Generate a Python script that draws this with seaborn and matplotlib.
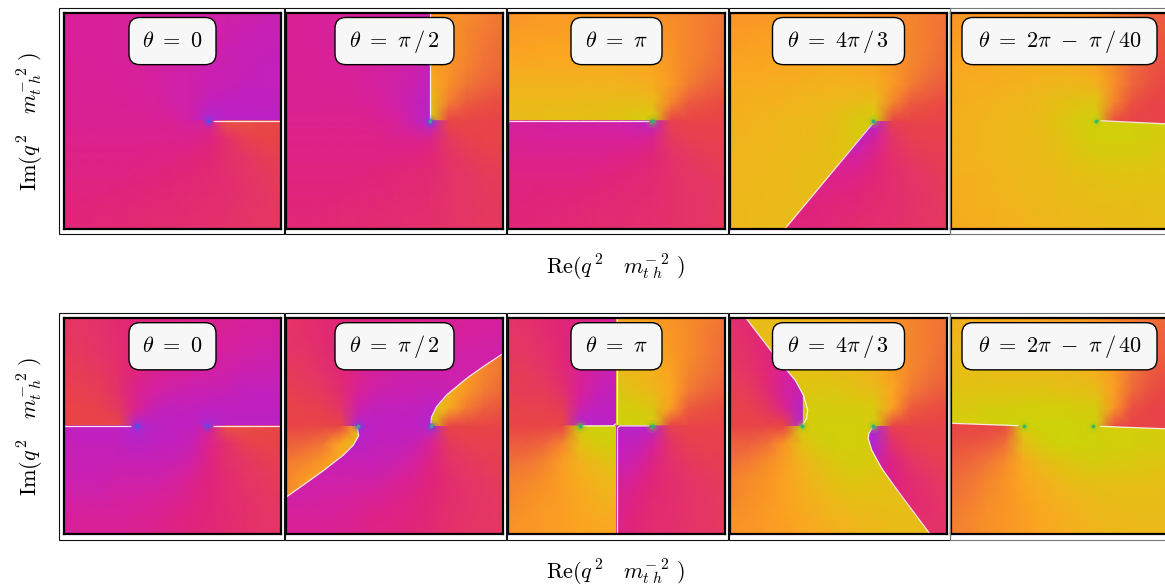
import matplotlib
matplotlib.use("Agg")
import matplotlib.pyplot as plt
from matplotlib.colors import LinearSegmentedColormap
from matplotlib.patches import FancyBboxPatch, Rectangle
from matplotlib.path import Path
from matplotlib.transforms import Affine2D
import numpy as np
import seaborn as sns

# ============================
# CONFIG
# ============================
W, H = 1165, 588
GRID = 12  # one sheet vertex every 1/12 of a panel
PANEL_X = [64, 286, 508, 730, 951]
PANEL_Y = [12.5, 317.7]
PANEL_W, PANEL_H = 217, 216.4

plt.rcParams["mathtext.fontset"] = "cm"

# ============================
# DATA: phase, 0 = blue ... 100 = teal
# ============================
PHASE_STOPS = [0, 10, 18, 25, 32, 40, 48, 56, 62, 68, 74, 80, 87, 94, 100]
PHASE_COLORS = ["#5050f0", "#a030e0", "#c020c0", "#d8209a", "#e0247a", "#e43468", "#e84545",
                "#f07038", "#f89028", "#fba520", "#f0b51c", "#e4c014", "#ccd408", "#60c840", "#20b090"]

TITLES = [r"$\theta\ =\ 0$", r"$\theta\ =\ \pi\,/\,2$", r"$\theta\ =\ \pi$",
          r"$\theta\ =\ 4\pi\,/\,3$", r"$\theta\ =\ 2\pi\ -\ \pi\,/\,40$"]
BOX_WIDTHS = [87, 119, 91, 132, 195]

# top row
T0_UP = [[25,25,25,25,25,24,24,23,23,22,22,21,20],
         [25,25,25,25,24,24,23,23,22,22,21,20,20],
         [25,25,25,25,24,24,23,22,22,21,20,20,19],
         [26,26,25,25,25,24,23,22,21,21,20,19,19],
         [26,26,26,25,25,24,23,22,21,20,19,19,19],
         [27,26,26,26,25,25,23,22,19,18,18,18,18],
         [27,27,27,27,27,26,25,22,14,17,17,17,17]]
T0_LOW = [[27,27,27,27,27,27,26,24,24,50,50,49,48],
          [28,28,28,28,28,28,28,28,30,38,45,47,48],
          [29,29,29,29,29,30,30,31,33,38,41,44,45],
          [30,30,30,30,31,31,32,33,35,37,40,42,44],
          [31,31,31,32,32,33,34,35,36,37,39,41,43],
          [32,32,33,33,34,35,35,36,37,38,40,41,42],
          [33,33,34,34,35,36,36,37,38,39,40,41,42]]
T1_LEFT = [[26,26,25,25,25,24,24,23,22],
           [26,26,25,25,25,24,23,23,22],
           [26,26,26,25,25,24,23,22,21],
           [26,26,26,25,25,24,23,22,20],
           [27,27,26,26,25,24,23,21,19],
           [27,27,27,27,26,25,23,20,17],
           [28,28,28,28,28,27,25,21,14],
           [29,29,29,29,29,29,28,27,28],
           [30,30,30,30,30,30,30,31,33],
           [31,31,31,31,31,32,33,34,35],
           [32,32,32,32,33,33,34,35,36],
           [33,33,33,34,34,35,36,36,37],
           [34,34,34,35,35,36,36,37,38]]
T1_RIGHT = [[65,63,61,59,57],
            [65,63,60,58,56],
            [66,63,60,57,55],
            [67,63,59,56,54],
            [72,62,57,54,52],
            [80,58,52,50,49],
            [84,48,48,48,47]]
T1_LOWER = [[14,48,48,48,47],
            [28,42,46,47,47],
            [33,40,43,45,46],
            [35,39,41,43,44],
            [37,39,41,42,43],
            [38,39,41,42,42],
            [38,40,41,42,42]]
T2_UP = [[63,64,65,65,65,64,64,63,62,61,60,58,57],
         [65,66,66,66,66,66,65,64,63,62,60,58,56],
         [67,67,68,68,68,67,67,66,65,63,60,58,55],
         [70,70,70,70,70,70,70,69,68,64,60,57,54],
         [73,73,73,73,73,73,73,72,71,65,58,54,52],
         [76,76,76,76,77,77,78,78,78,60,52,50,49],
         [78,78,79,79,79,80,81,84,84,48,48,48,47]]
T2_LOW = [[24,24,24,23,23,23,22,20,16,46,47,47,47],
          [26,26,25,25,25,25,25,25,28,42,45,46,46],
          [28,28,28,28,28,28,29,30,33,39,42,44,45],
          [30,30,30,30,30,31,32,33,35,38,41,42,43],
          [31,31,32,32,32,33,34,35,36,38,40,41,42],
          [32,32,33,33,34,35,35,36,37,38,40,41,42],
          [33,33,34,34,35,36,36,37,38,39,40,41,42]]
T3_MAIN = [[63,64,64,65,65,64,64,63,62,61,60,58,57],
           [65,65,66,66,66,66,65,64,63,62,60,58,56],
           [66,67,67,67,67,67,67,66,65,63,60,58,55],
           [68,68,69,69,69,70,70,69,68,64,60,57,54],
           [70,70,71,71,72,72,73,73,72,65,58,54,52],
           [71,72,72,73,74,75,76,78,79,60,52,50,49],
           [72,73,74,75,76,77,79,83,84,48,48,48,47],
           [73,74,74,75,76,78,80,83,84,84,84,84,84],
           [74,74,75,76,77,78,80,81,81,81,81,81,81],
           [74,75,75,76,77,78,79,79,79,79,79,79,79],
           [75,75,76,76,77,78,78,78,78,78,78,78,78],
           [75,76,76,77,77,78,78,78,78,78,78,78,78],
           [76,76,77,77,77,78,78,78,78,78,78,78,78]]
T3_LOW = [[12,12,12,12,12,12,12,12,14,46,47,47,47],
          [25,25,25,25,25,25,20,17,24,40,45,46,46],
          [28,28,28,28,28,27,26,24,30,38,42,44,45],
          [29,29,29,29,29,29,28,29,33,37,40,42,44],
          [30,30,30,30,30,30,31,32,35,37,39,41,43],
          [31,31,31,31,31,32,33,34,36,37,39,41,42],
          [32,32,32,32,32,33,34,36,37,38,40,41,42]]
T4_UP = [[63,64,65,65,65,64,64,63,62,59,57,54,52],
         [65,66,66,66,66,66,65,64,63,60,56,53,51],
         [67,67,68,68,68,68,67,66,65,61,56,53,50],
         [69,69,70,70,71,71,71,70,68,61,55,51,49],
         [70,71,71,72,73,74,75,75,74,62,54,50,48],
         [71,72,73,74,75,77,79,81,82,60,50,48,47],
         [72,73,74,75,76,78,81,84,85,50,47,47,47],
         [72,73,74,75,76,78,80,83,85,47,47,47,47]]
T4_LOW = [[72,73,74,75,76,78,81,84,85,85,85,85,85],
          [72,73,74,75,76,78,80,83,85,85,85,84,84],
          [72,73,74,75,76,77,79,81,83,83,83,83,82],
          [72,72,73,74,75,76,77,79,80,81,81,81,81],
          [71,72,73,74,75,76,77,78,79,79,80,80,80],
          [71,72,72,73,74,75,76,77,77,78,78,79,79],
          [70,71,72,72,73,74,75,76,76,77,77,78,78]]

# bottom row
B0_UP = [[41,40,38,35,33,31,29,28,27,26,25,24,24],
         [42,41,39,36,33,31,29,27,26,25,24,24,23],
         [43,42,40,37,32,29,27,26,24,24,23,22,22],
         [44,44,42,38,31,27,25,24,23,22,21,21,20],
         [46,45,44,38,28,24,22,21,21,20,19,19,19],
         [47,47,46,42,27,20,19,19,18,18,18,18,18],
         [48,48,48,48,15,17,18,18,14,17,17,17,17]]
B0_LOW = [[18,18,18,18,14,17,18,18,24,50,50,49,48],
          [19,19,19,19,17,18,19,20,28,38,45,47,47],
          [20,20,20,20,20,20,21,23,30,38,41,44,45],
          [21,21,21,22,22,22,24,27,31,36,40,42,44],
          [23,23,23,24,24,25,26,29,32,36,38,41,42],
          [24,25,25,25,26,27,29,31,33,35,38,40,41],
          [25,26,26,26,27,28,30,32,34,36,38,40,41]]
B1_MAIN = [[30,30,30,31,31,30,29,28,27,26,25,25,24],
           [30,30,30,30,30,29,27,26,25,25,24,24,24],
           [29,29,29,29,29,27,25,24,23,23,23,23,23],
           [28,28,28,28,28,24,23,22,22,22,22,22,22],
           [27,27,27,27,26,22,21,21,20,21,21,21,21],
           [26,26,26,26,22,19,19,19,17,20,20,20,20],
           [20,20,20,20,15,18,18,18,15,20,20,20,20],
           [19,19,19,18,17,19,19,20,26,26,26,26,26],
           [20,20,20,20,20,20,21,24,30,34,34,34,34],
           [22,22,22,22,22,23,25,27,32,36,36,36,36],
           [23,23,24,24,25,26,28,30,33,36,36,36,36],
           [25,25,25,26,27,29,30,31,34,36,36,36,36],
           [26,26,27,27,28,30,31,33,35,37,38,38,38]]
B1_UL = [[40,38,35,33,31],
         [40,38,36,33,30],
         [41,40,37,33,29],
         [43,42,39,34,28],
         [45,44,42,36,26],
         [47,46,45,40,22],
         [48,48,48,48,15]]
B1_LL = [[48,48,48,48,74],
         [53,54,57,68,80],
         [58,60,64,70,70],
         [60,65,68,70,70],
         [62,62,62,62,62],
         [62,62,62,62,62],
         [62,62,62,62,62]]
B1_UR = [[60,60,60,60,58],
         [60,60,60,60,58],
         [60,60,60,60,57],
         [70,70,65,60,56],
         [75,72,64,58,54],
         [85,70,58,53,51],
         [84,48,48,48,47]]
B1_LR = [[15,48,48,48,47],
         [26,42,45,46,46],
         [30,39,42,44,45],
         [32,37,40,42,43],
         [33,37,39,41,42],
         [34,38,40,41,42],
         [35,38,40,41,42]]
B2_UL = [[40,38,35,33,31,28,25],
         [41,40,37,33,29,26,24],
         [42,41,39,34,27,24,22],
         [44,43,41,35,26,22,20],
         [45,44,43,38,25,20,19],
         [47,46,46,44,22,18,18],
         [48,48,48,48,14,16,17]]
B2_UR = [[68,67,65,63,61,59,57],
         [71,69,67,64,61,58,56],
         [74,72,69,65,61,58,55],
         [77,75,72,67,60,57,54],
         [81,79,75,68,58,54,52],
         [85,84,82,66,52,50,49],
         [86,86,85,48,48,48,47]]
B2_LL = [[48,48,48,48,84,86,86],
         [52,52,54,60,80,84,85],
         [56,57,60,66,73,78,82],
         [59,60,62,66,71,74,78],
         [60,62,64,66,69,72,74],
         [62,63,65,66,68,70,71],
         [63,64,65,66,67,68,69]]
B2_LR = [[17,16,16,46,47,47,47],
         [18,19,24,40,45,46,46],
         [20,22,30,38,42,44,45],
         [23,27,33,37,40,42,44],
         [26,30,35,37,39,41,43],
         [28,32,36,37,39,41,42],
         [30,33,37,38,40,41,42]]
B3_MAIN = [[78,78,77,76,74,72,70,67,64,62,60,58,57],
           [78,78,78,78,77,75,73,70,67,63,60,58,56],
           [79,79,79,79,79,78,76,73,70,65,60,58,55],
           [80,80,80,80,80,80,78,76,73,66,60,57,54],
           [82,82,82,82,82,82,82,80,78,68,58,54,52],
           [84,84,84,84,84,84,84,84,83,66,52,50,49],
           [48,48,48,48,84,85,85,85,84,48,48,48,47],
           [53,53,56,64,80,84,85,85,84,84,84,84,84],
           [56,58,61,66,74,80,83,84,83,83,83,83,83],
           [59,61,63,67,72,77,81,82,81,80,80,80,80],
           [60,62,64,67,71,74,78,79,79,79,79,79,79],
           [62,63,65,67,69,72,74,76,77,78,78,78,78],
           [63,64,65,66,68,70,72,74,75,77,77,77,77]]
B3_LEFT = [[37,35,32,30,28],
           [40,36,33,29,26],
           [41,38,33,27,24],
           [43,40,34,25,21],
           [45,43,36,24,20],
           [47,46,42,28,15],
           [48,48,48,48,14]]
B3_RIGHT = [[10,14,46,47,47,47],
            [14,15,38,45,46,46],
            [20,22,30,40,43,45],
            [25,25,30,36,40,43],
            [29,29,31,35,38,41],
            [32,32,33,36,38,40],
            [34,34,35,37,39,40]]
B4_UP = [[72,71,70,69,68,67,66,65,63,60,58,56,54],
         [74,74,73,72,71,70,69,67,65,62,58,55,53],
         [76,76,75,75,74,73,72,71,68,63,58,54,52],
         [79,79,78,78,78,77,76,75,72,65,57,52,50],
         [81,81,81,81,81,81,80,80,78,66,55,50,48],
         [83,83,84,84,85,85,85,84,84,64,50,48,47],
         [85,85,85,86,86,86,86,86,85,50,47,47,47],
         [85,85,85,86,86,86,86,86,85,47,47,47,47]]
B4_LOW = [[47,47,47,48,85,85,85,84,84,85,85,85,85],
          [48,48,48,49,85,86,86,86,85,85,85,85,85],
          [50,51,52,56,78,84,86,86,86,85,85,84,84],
          [53,54,57,61,70,77,81,83,84,83,83,82,82],
          [55,57,60,63,68,72,76,79,80,80,80,80,79],
          [57,58,61,63,67,70,73,75,77,78,78,78,78],
          [58,60,62,64,66,69,71,73,75,76,77,77,77],
          [59,60,62,64,66,68,70,72,74,75,76,76,76]]

# cuts, as fractions of the panel (x to the right, y downwards)
T0_CUT = ([0.688, 1.0], [0.5, 0.5])
T1_CUT = ([0.664, 0.664], [0.49, 0.0])
T2_CUT = ([0.0, 0.65], [0.5, 0.5])
T3_CUT = ([0.66, 0.253], [0.51, 1.0])
T4_CUT = ([0.688, 1.0], [0.5, 0.515])
B0_CUT_L = ([0.0, 0.31], [0.5, 0.5])
B1_CUT_R = ([0.667, 0.671, 0.694, 0.740, 0.833, 0.909, 0.989, 1.0],
            [0.488, 0.458, 0.411, 0.357, 0.280, 0.226, 0.173, 0.165])
B1_CUT_L = ([0.329, 0.335, 0.310, 0.264, 0.172, 0.080, 0.003, 0.0],
            [0.508, 0.545, 0.589, 0.635, 0.707, 0.773, 0.827, 0.83])
B2_CUT_V1 = ([0.5, 0.5], [0.0, 0.49])
B2_CUT_V2 = ([0.5, 0.5], [0.51, 1.0])
B2_CUT_H1 = ([0.345, 0.485, 0.497], [0.5, 0.5, 0.49])
B2_CUT_H2 = ([0.503, 0.515, 0.65], [0.51, 0.5, 0.5])
B3_CUT_L = ([0.072, 0.192, 0.261, 0.300, 0.338, 0.358, 0.353, 0.333],
            [0.0, 0.157, 0.242, 0.288, 0.357, 0.427, 0.465, 0.499])
B3_CUT_R = ([0.66, 0.64, 0.637, 0.653, 0.699, 0.776, 0.922],
            [0.5, 0.535, 0.558, 0.612, 0.696, 0.804, 1.0])
B4_CUT_L = ([0.0, 0.31], [0.488, 0.499])
B4_CUT_R = ([0.688, 0.983, 1.0], [0.502, 0.513, 0.514])

# branch points
POLE_TOP_X = [0.664, 0.664, 0.664, 0.66, 0.668]
POLE_BOT_X = [[0.336, 0.66], [0.33, 0.667], [0.333, 0.665], [0.333, 0.66], [0.338, 0.656]]
POLE_CORE = ["#4a55e8", "#30a890", "#2fae80", "#2fae80", "#38b860"]
POLE_HALO = ["#7a40e8", "#6a48e0", "#70c030", "#90c820", "#a8cc18"]


def closed(*parts):
    return np.array([p for part in parts for p in part])


def pts(cut):
    return list(zip(cut[0], cut[1]))


# (values, first column, first row, clip polygon)
SHEETS = [
    [(T0_UP, 0, 0, None), (T0_LOW, 0, 6, None)],
    [(T1_LEFT, 0, 0, None), (T1_RIGHT, 8, 0, None), (T1_LOWER, 8, 6, None)],
    [(T2_UP, 0, 0, None), (T2_LOW, 0, 6, None)],
    [(T3_MAIN, 0, 0, None),
     (T3_LOW, 0, 6, closed([(0.664, 0.5), (1, 0.5), (1, 1)], [(0.253, 1)]))],
    [(T4_UP, 0, 0, None),
     (T4_LOW, 0, 6, closed([(0, 0.5), (0.668, 0.5), (1, 0.515), (1, 1), (0, 1)]))],
    [(B0_UP, 0, 0, None), (B0_LOW, 0, 6, None)],
    [(B1_MAIN, 0, 0, None),
     (B1_UL, 0, 0, None),
     (B1_LL, 0, 6, closed([(0, 0.5), (0.333, 0.5)], pts(B1_CUT_L))),
     (B1_LR, 8, 6, None),
     (B1_UR, 8, 0, closed([(0.667, 0.5), (1, 0.5)], pts(B1_CUT_R)[::-1]))],
    [(B2_UL, 0, 0, None), (B2_UR, 6, 0, None), (B2_LL, 0, 6, None), (B2_LR, 6, 6, None)],
    [(B3_MAIN, 0, 0, None),
     (B3_LEFT, 0, 0, closed(pts(B3_CUT_L), [(0, 0.5), (0, 0)])),
     (B3_RIGHT, 7, 6, closed(pts(B3_CUT_R), [(1, 1), (1, 0.5)]))],
    [(B4_UP, 0, 0, None),
     (B4_LOW, 0, 5, closed(pts(B4_CUT_L), [(0.338, 0.5), (0.656, 0.5)], pts(B4_CUT_R), [(1, 1), (0, 1)]))],
]
CUTS = [
    [T0_CUT], [T1_CUT], [T2_CUT], [T3_CUT], [T4_CUT],
    [B0_CUT_L, T0_CUT], [B1_CUT_R, B1_CUT_L],
    [B2_CUT_V1, B2_CUT_V2, B2_CUT_H1, B2_CUT_H2],
    [B3_CUT_L, B3_CUT_R], [B4_CUT_L, B4_CUT_R],
]

# ============================
# PLOT
# ============================
phase_cmap = LinearSegmentedColormap.from_list(
    "phase", [(s / 100, c) for s, c in zip(PHASE_STOPS, PHASE_COLORS)])

fig = plt.figure(figsize=(W / 100, H / 100), dpi=100)


def px_rect(x0, y0, w, h):
    return [x0 / W, 1 - (y0 + h) / H, w / W, h / H]


for r, y0 in enumerate(PANEL_Y):
    for c, x0 in enumerate(PANEL_X):
        n = r * 5 + c

        left = x0 - (4.5 if c == 0 else 1.5)
        right = x0 + PANEL_W + 2.5
        l, b, w, h = px_rect(left, y0 - 5, right - left, PANEL_H + 10.5)
        fig.add_artist(Rectangle((l, b), w, h, transform=fig.transFigure, fill=False,
                                 ec="#111111" if c < 4 else "#777777", lw=0.8))

        ax = fig.add_axes(px_rect(x0, y0, PANEL_W, PANEL_H))
        for values, col, row, clip in SHEETS[n]:
            shift = Affine2D().scale(1 / GRID).translate(col / GRID, row / GRID) + ax.transData
            sns.heatmap(np.array(values, dtype=float), ax=ax, cmap=phase_cmap, vmin=0, vmax=100,
                        cbar=False, xticklabels=False, yticklabels=False,
                        shading="gouraud", transform=shift)
            if clip is not None:
                ax.collections[-1].set_clip_path(Path(clip), ax.transData)

        for cut in CUTS[n]:
            ax.plot(cut[0], cut[1], color="white", lw=0.9, alpha=0.85, solid_capstyle="butt")

        pole_x = [POLE_TOP_X[c]] if r == 0 else POLE_BOT_X[c]
        pole_y = [0.5] * len(pole_x)
        ax.scatter(pole_x, pole_y, s=90, color=POLE_HALO[c], alpha=0.18, lw=0, zorder=4)
        ax.scatter(pole_x, pole_y, s=30, color=POLE_HALO[c], alpha=0.4, lw=0, zorder=4)
        ax.scatter(pole_x, pole_y, s=8, color=POLE_CORE[c], lw=0, zorder=5)

        box_w = BOX_WIDTHS[c] / PANEL_W
        ax.add_patch(FancyBboxPatch((0.5 - box_w / 2, 0.023), box_w, 0.218,
                                    boxstyle="round,pad=0,rounding_size=0.05",
                                    fc="#f7f7f7", ec="black", lw=1.0, zorder=6))
        ax.text(0.5, 0.132, TITLES[c], ha="center", va="center", fontsize=16, zorder=7)

        ax.set_xlim(0, 1)
        ax.set_ylim(1, 0)
        ax.set_xticks([])
        ax.set_yticks([])
        for s in ax.spines.values():
            s.set_visible(True)
            s.set_linewidth(1.6)
            s.set_color("black")

    fig.text(615 / W, 1 - (y0 + 254) / H, r"$\mathrm{Re}(q^{\,2}\ \ \ m_{t\,\,h}^{-\,\,2}\,\,)$",
             ha="center", va="center", fontsize=16)
    fig.text(30 / W, 1 - (y0 + 109) / H, r"$\mathrm{Im}(q^{\,2}\ \ \ m_{t\,\,h}^{-\,\,2}\,\,)$",
             ha="center", va="center", rotation=90, fontsize=16)

fig.savefig("out.png", dpi=100)
